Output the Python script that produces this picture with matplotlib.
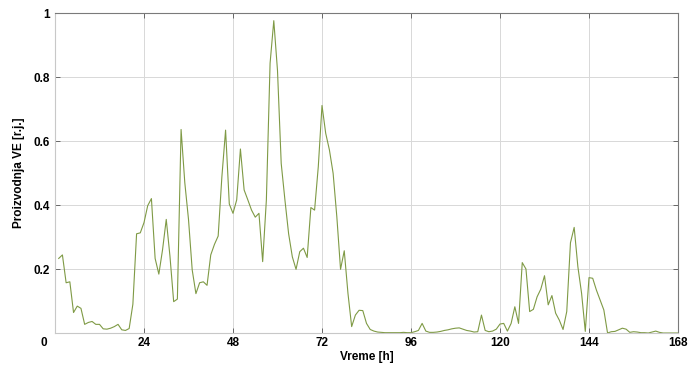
import matplotlib
matplotlib.use("Agg")
import matplotlib.pyplot as plt
import numpy as np

plt.rcParams['font.family'] = ['Liberation Sans', 'DejaVu Sans']

hours = list(range(1, 169))
production = [
    0.233, 0.244, 0.157, 0.160, 0.064, 0.084, 0.077, 0.027, 0.033, 0.036,
    0.027, 0.027, 0.013, 0.012, 0.015, 0.020, 0.027, 0.010, 0.008, 0.014,
    0.090, 0.310, 0.313, 0.345, 0.398, 0.420, 0.233, 0.184, 0.260, 0.355,
    0.240, 0.098, 0.106, 0.636, 0.470, 0.355, 0.197, 0.123, 0.157, 0.160,
    0.149, 0.244, 0.277, 0.303, 0.488, 0.634, 0.403, 0.374, 0.416, 0.575,
    0.447, 0.416, 0.384, 0.362, 0.374, 0.223, 0.416, 0.843, 0.976, 0.820,
    0.530, 0.416, 0.310, 0.238, 0.199, 0.254, 0.265, 0.236, 0.392, 0.384,
    0.520, 0.711, 0.624, 0.572, 0.499, 0.363, 0.199, 0.257, 0.124, 0.020,
    0.056, 0.071, 0.070, 0.030, 0.011, 0.006, 0.003, 0.002, 0.001, 0.001,
    0.001, 0.001, 0.001, 0.002, 0.001, 0.001, 0.004, 0.008, 0.030, 0.006,
    0.002, 0.002, 0.003, 0.005, 0.008, 0.010, 0.013, 0.015, 0.016, 0.012,
    0.008, 0.006, 0.003, 0.004, 0.056, 0.008, 0.004, 0.006, 0.012, 0.028,
    0.030, 0.006, 0.030, 0.082, 0.030, 0.220, 0.200, 0.067, 0.074, 0.113,
    0.137, 0.179, 0.088, 0.117, 0.062, 0.040, 0.011, 0.067, 0.282, 0.330,
    0.207, 0.124, 0.005, 0.173, 0.171, 0.134, 0.103, 0.072, 0.000, 0.004,
    0.005, 0.010, 0.015, 0.012, 0.002, 0.004, 0.003, 0.001, 0.001, 0.000,
    0.003, 0.006, 0.002, 0.000, 0.000, 0.000, 0.000, 0.000,
]
x_ticks = [24, 48, 72, 96, 120, 144, 168]
x_tick_labels = ['24', '48', '72', '96', '120', '144', '168']
y_ticks = [0.2, 0.4, 0.6, 0.8, 1.0]
y_tick_labels = ['0.2', '0.4', '0.6', '0.8', '1']

fig = plt.figure(figsize=(6.99, 3.66), dpi=100)
ax = fig.add_axes([55/699, 33/366, 623/699, 320/366])

ax.plot(hours, production, color='#7f9a45', linewidth=0.8)

ax.set_xlim(0, 168)
ax.set_ylim(0, 1)
ax.set_xticks(x_ticks)
ax.set_xticklabels(x_tick_labels, fontsize=8.5, fontweight='bold')
ax.set_yticks(y_ticks)
ax.set_yticklabels(y_tick_labels, fontsize=8.5, fontweight='bold')
ax.tick_params(direction='in', length=3.5, width=0.6, color='#555555',
               top=True, right=True)
ax.tick_params(axis='x', pad=3)
ax.tick_params(axis='y', pad=4)
ax.grid(True, color='#d8d8d8', linewidth=0.7)
ax.set_axisbelow(True)
for s in ['top', 'right']:
    ax.spines[s].set_color('#7a7a7a')
    ax.spines[s].set_linewidth(0.8)
for s in ['left', 'bottom']:
    ax.spines[s].set_color('#c8c8c8')
    ax.spines[s].set_linewidth(0.8)

ax.set_xlabel('Vreme [h]', fontsize=8.5, fontweight='bold', labelpad=1)
ax.set_ylabel('Proizvodnja VE [r.j.]', fontsize=8.5, fontweight='bold', labelpad=6)

fig.text(43.5/699, 1 - 343/366, '0', ha='center', va='center',
         fontsize=8.5, fontweight='bold')

fig.savefig('out.png', dpi=100)
